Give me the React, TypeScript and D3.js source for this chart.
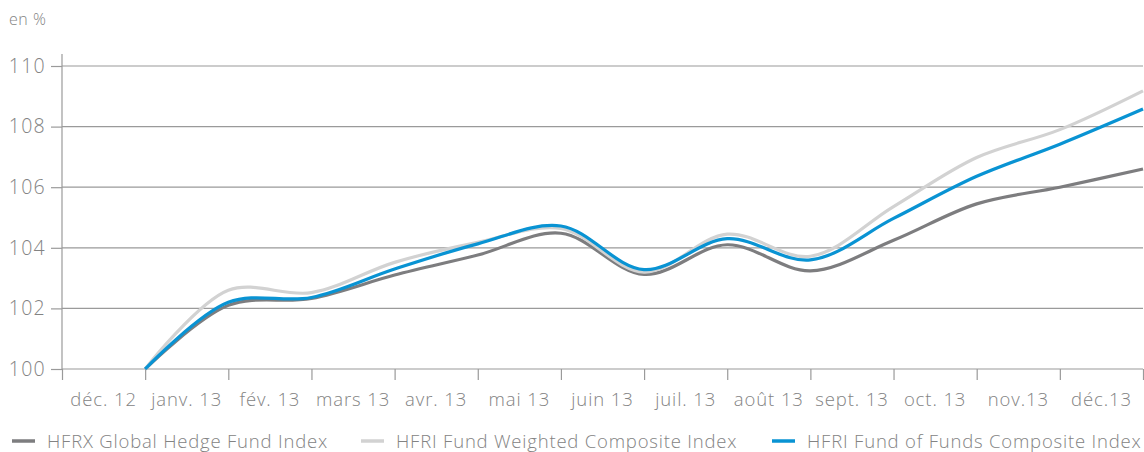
import React, { useRef, useEffect } from 'react';
import * as d3 from 'd3';

const months = ['déc. 12', 'janv. 13', 'fév. 13', 'mars 13', 'avr. 13', 'mai 13', 'juin 13', 'juil. 13', 'août 13', 'sept. 13', 'oct. 13', 'nov.13', 'déc.13'];
const yTicks = [100, 102, 104, 106, 108, 110];

// month-end values, déc. 12 = 100
const hfrx = [100, 102.1, 102.33, 103.1, 103.76, 104.48, 103.12, 104.1, 103.24, 104.25, 105.45, 106.0, 106.6];
const hfriWeighted = [100, 102.6, 102.52, 103.52, 104.18, 104.64, 103.2, 104.45, 103.72, 105.36, 106.98, 107.9, 109.18];
const hfriFof = [100, 102.2, 102.36, 103.3, 104.13, 104.72, 103.28, 104.3, 103.6, 104.97, 106.36, 107.42, 108.58];

const series = [
  { name: 'HFRX Global Hedge Fund Index', values: hfrx, color: '#7d7d7f' },
  { name: 'HFRI Fund Weighted Composite Index', values: hfriWeighted, color: '#d2d2d2' },
  { name: 'HFRI Fund of Funds Composite Index', values: hfriFof, color: '#0993d3' },
];

const W = 1144;
const H = 452;

const App = () => {
  const svgRef = useRef(null);

  useEffect(() => {
    const svg = d3.select(svgRef.current);
    svg.selectAll('*').remove();

    const left = 62, right = 1143, top = 66, bottom = 369;
    const textColor = '#838383';
    const gridColor = '#9a9a9a';
    const font = "'Open Sans', sans-serif";

    const x = d3.scaleLinear().domain([0, months.length]).range([left, right]);
    const y = d3.scaleLinear().domain([100, 110]).range([bottom, top]);

    svg.append('text')
      .attr('x', 9).attr('y', 25)
      .attr('fill', textColor)
      .style('font-family', font).style('font-weight', 300).style('font-size', '16px')
      .style('letter-spacing', '0.5px')
      .text('en %');

    // grid
    svg.append('g').selectAll('line')
      .data(yTicks)
      .enter().append('line')
      .attr('x1', left).attr('x2', right)
      .attr('y1', d => y(d)).attr('y2', d => y(d))
      .attr('stroke', gridColor).attr('stroke-width', 1.2);

    const yAxis = svg.append('g')
      .attr('transform', `translate(${left},0)`)
      .call(d3.axisLeft(y).tickValues(yTicks).tickSize(11).tickPadding(5).tickFormat(d3.format('d')));
    yAxis.select('.domain').attr('stroke', gridColor).attr('stroke-width', 1.2)
      .attr('d', `M0,${top - 12}V${bottom}`);
    yAxis.selectAll('line').attr('stroke', gridColor).attr('stroke-width', 1.2);
    yAxis.selectAll('text')
      .attr('fill', textColor)
      .style('font-family', font).style('font-weight', 300).style('font-size', '19.5px')
      .style('letter-spacing', '1.3px');

    const xAxis = svg.append('g')
      .attr('transform', `translate(0,${bottom})`)
      .call(d3.axisBottom(x).tickValues(d3.range(months.length + 1)).tickSize(11).tickFormat(() => ''));
    xAxis.select('.domain').remove();
    xAxis.selectAll('line').attr('stroke', gridColor).attr('stroke-width', 1.2);

    svg.append('g').selectAll('text')
      .data(months)
      .enter().append('text')
      .attr('x', (d, i) => x(i + 0.5))
      .attr('y', 406)
      .attr('text-anchor', 'middle')
      .attr('fill', textColor)
      .style('font-family', font).style('font-weight', 300).style('font-size', '18.5px')
      .style('letter-spacing', '0.9px')
      .text(d => d);

    const line = d3.line()
      .x((d, i) => x(i + 1))
      .y(d => y(d))
      .curve(d3.curveCatmullRom.alpha(0.5));

    svg.append('g').selectAll('path')
      .data(series)
      .enter().append('path')
      .attr('d', d => line(d.values))
      .attr('fill', 'none')
      .attr('stroke', d => d.color)
      .attr('stroke-width', 3.2);

    // legend
    const legendX = [12, 361, 772];
    const lg = svg.append('g').selectAll('g')
      .data(series)
      .enter().append('g')
      .attr('transform', (d, i) => `translate(${legendX[i]},441)`);
    lg.append('line')
      .attr('x1', 0).attr('x2', 23)
      .attr('stroke', d => d.color).attr('stroke-width', 3.5);
    lg.append('text')
      .attr('x', 35).attr('y', 7)
      .attr('fill', textColor)
      .style('font-family', font).style('font-weight', 300).style('font-size', '18.5px')
      .style('letter-spacing', '0.8px')
      .text(d => d.name);
  }, []);

  return (
    <svg ref={svgRef} width={W} height={H} style={{ position: 'absolute', left: 0, top: 0 }}></svg>
  );
};

export default App;
